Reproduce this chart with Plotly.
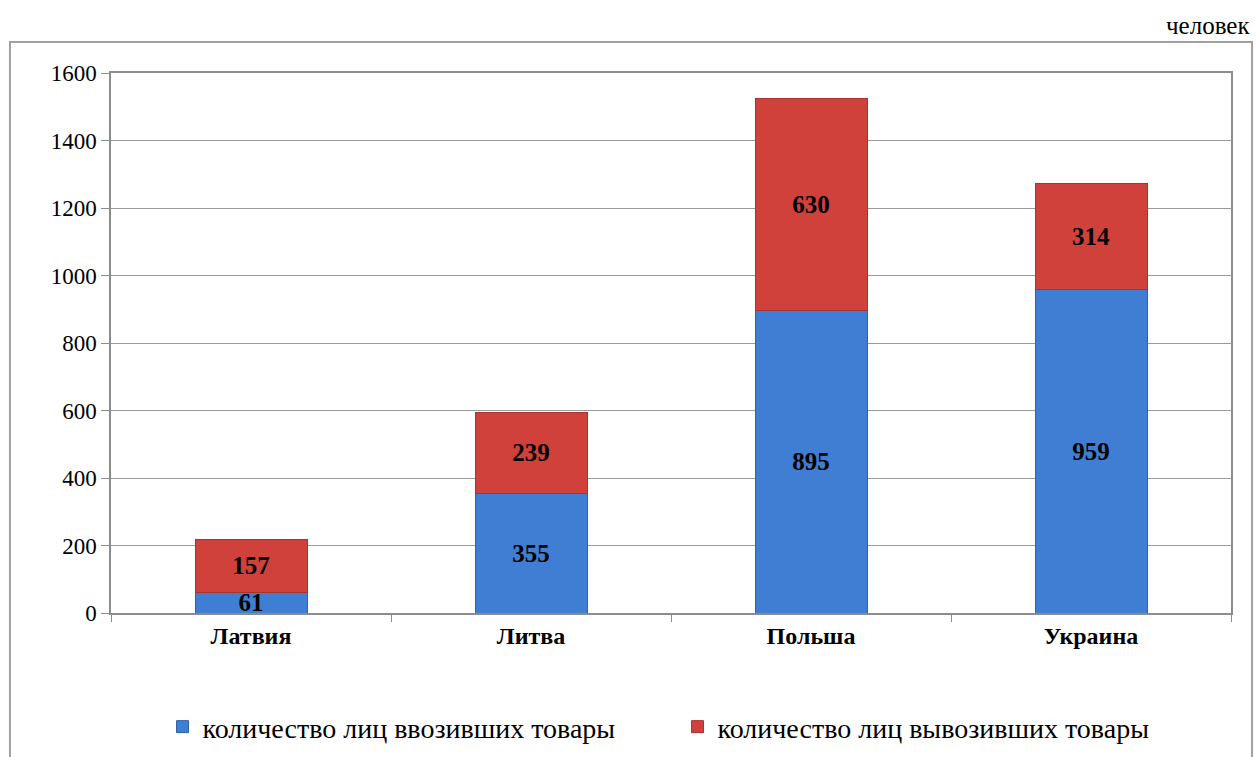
import plotly.graph_objects as go

categories = ["Латвия", "Литва", "Польша", "Украина"]
imported = [61, 355, 895, 959]
exported = [157, 239, 630, 314]
series_names = ["количество лиц ввозивших товары", "количество лиц вывозивших товары"]
y_ticks = [0, 200, 400, 600, 800, 1000, 1200, 1400, 1600]
unit_label = "человек"

FONT = "Liberation Serif"

fig = go.Figure()
fig.add_trace(go.Bar(
    x=categories, y=imported, name=series_names[0],
    marker=dict(color="#3F7ED2", line=dict(color="#2F62A6", width=1)),
    text=imported, textposition="inside", insidetextanchor="middle",
    constraintext="none", textangle=0,
    textfont=dict(family=FONT, size=25, color="black", weight="bold"),
))
fig.add_trace(go.Bar(
    x=categories, y=exported, name=series_names[1],
    marker=dict(color="#D0413C", line=dict(color="#A8322E", width=1)),
    text=exported, textposition="inside", insidetextanchor="middle",
    constraintext="none", textangle=0,
    textfont=dict(family=FONT, size=25, color="black", weight="bold"),
))

fig.update_layout(
    barmode="stack",
    bargap=0.6,
    width=1258, height=757,
    margin=dict(l=111, r=27, t=73, b=144, autoexpand=False),
    paper_bgcolor="white", plot_bgcolor="white",
    font=dict(family=FONT, size=22, color="black"),
    showlegend=True,
    legend=dict(
        orientation="h", x=0.046, xanchor="left", y=-0.211, yanchor="middle",
        font=dict(family=FONT, size=28, color="black"),
        itemwidth=30, entrywidth=470, entrywidthmode="pixels",
        traceorder="normal",
    ),
    xaxis=dict(
        showline=True, linecolor="#8C8C8C", linewidth=1.5,
        ticks="outside", tickson="boundaries", ticklen=7, tickcolor="#8C8C8C",
        tickfont=dict(family=FONT, size=24, color="black", weight="bold"),
        mirror=True,
    ),
    yaxis=dict(
        range=[0, 1600], tickvals=y_ticks,
        showline=True, linecolor="#8C8C8C", linewidth=1.5,
        ticks="outside", ticklen=8, tickcolor="#8C8C8C",
        gridcolor="#9A9A9A", gridwidth=1.2,
        tickfont=dict(family=FONT, size=23, color="black"),
        mirror=True, zeroline=False,
    ),
)

fig.add_shape(type="rect", xref="paper", yref="paper",
              x0=-0.0902, x1=1.0188, y0=-0.28, y1=1.0574,
              line=dict(color="#A0A0A0", width=2), fillcolor="rgba(0,0,0,0)", layer="below")

fig.add_annotation(text=unit_label, xref="paper", yref="paper",
                   x=1.0188, y=1.088, xanchor="right", yanchor="middle",
                   showarrow=False, font=dict(family=FONT, size=25, color="black"))

fig.write_html("out.html", config={"displayModeBar": False},
               post_script="document.body.style.margin='0';document.body.style.overflow='hidden';")
